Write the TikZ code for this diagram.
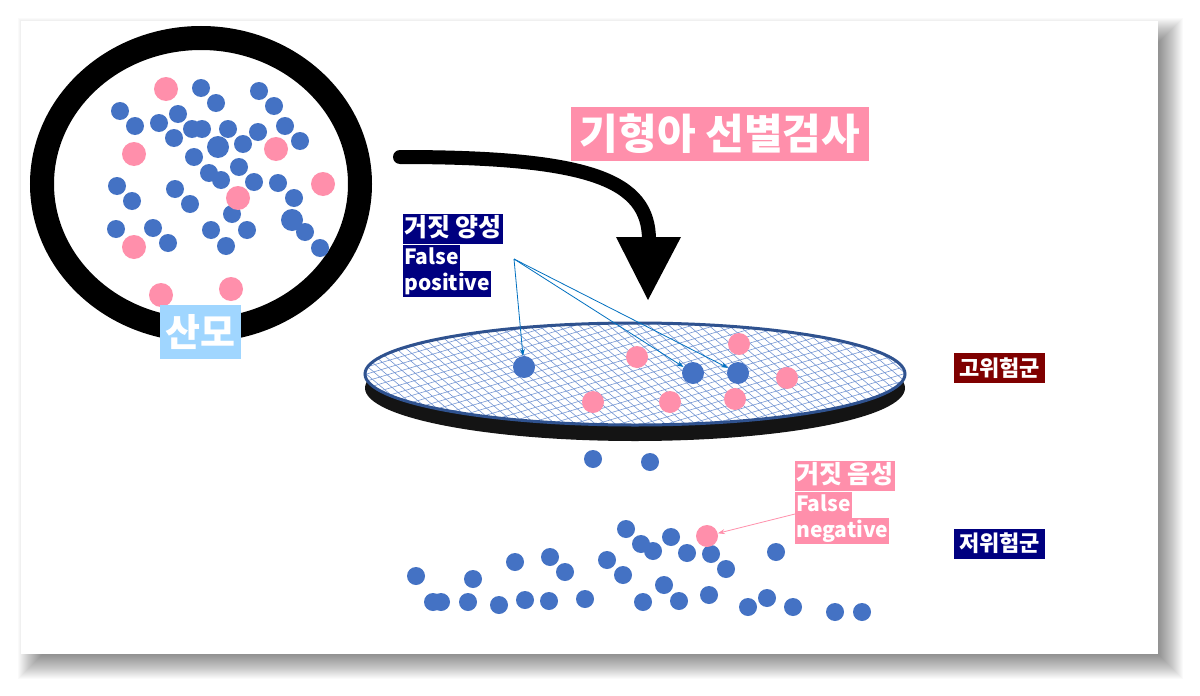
\documentclass[tikz,border=0pt]{standalone}
\usepackage{fontspec}
\newfontfamily\kr{Noto Sans CJK KR}
\usetikzlibrary{positioning,arrows.meta}
\definecolor{dotblue}{HTML}{4472C4}
\definecolor{dotpink}{HTML}{FF8FAB}
\definecolor{navy}{HTML}{000080}
\definecolor{maroon}{HTML}{7F0000}
\definecolor{skyblue}{HTML}{A0D6FF}
\definecolor{diskedge}{HTML}{2F528F}
\definecolor{arrowblue}{HTML}{0070C0}
\tikzset{
  bdot/.style={circle, fill=dotblue, inner sep=0pt, minimum size=22pt},
  pdot/.style={circle, fill=dotpink, inner sep=0pt, minimum size=22pt},
  hlk/.style={text=white, font=\kr\bfseries\fontsize{25}{28}\selectfont,
    inner xsep=1pt, inner ysep=2.5pt, text height=20pt, text depth=5pt},
  hle/.style={text=white, font=\kr\bfseries\fontsize{21}{24}\selectfont,
    inner xsep=1pt, inner ysep=2.5pt, text height=17pt, text depth=4pt},
  mesh/.style={dotblue!75, line width=0.6pt},
  fparrow/.style={arrowblue, line width=0.8pt, -{Stealth[length=7pt,width=5pt]}},
  fnarrow/.style={dotpink, line width=0.8pt, -{Stealth[length=7pt,width=5pt]}}
}
\begin{document}
\begin{tikzpicture}[x=1pt,y=-1pt]
\useasboundingbox (0,0) rectangle (1200,696);
\fill[white] (0,0) rectangle (1200,696);
% slide shadow
\foreach \e in {-14,...,18} {
  \fill[black, opacity=0.02] (36-\e,36-\e) rectangle (1165+\e,661+\e);
}
\fill[white] (21,21) rectangle (1158,654);

% mother
\draw[line width=24pt] (201,184) ellipse [x radius=159, y radius=146];
\foreach \x/\y in {201/88,216/103,259/91,274/106,120/111,135/126,159/123,178/114,
  192/129,202/129,228/129,258/132,285/126,300/141,174/138,243/144,194/157,
  239/167,209/173,221/180,254/182,278/183,117/186,132/201,175/189,190/204,
  294/198,232/214,305/232,320/248,116/229,153/228,168/243,211/230,247/230,226/246} {
  \fill[dotblue] (\x,\y) circle (9pt);
}
\fill[dotblue] (218,147) circle (11pt);
\fill[dotblue] (292,220) circle (11pt);
\foreach \x/\y in {166/89,134/154,276/149,323/184,238/198,134/247,161/295,231/289} {
  \fill[dotpink] (\x,\y) circle (12pt);
}
\node[text=white, fill=skyblue, font=\kr\bfseries\fontsize{38}{40}\selectfont,
  minimum width=81pt, minimum height=54pt, inner sep=0pt] (mom) at (200,332) {산모};

% screening arrow
\coordinate (arrS) at (400,157);
\coordinate (arrE) at (649,240);
\draw[line width=14pt, line cap=round] (arrS) .. controls (590,157) and (649,180) .. (arrE);
\fill (616,237) -- (681,237) -- (648,300) -- cycle;
\node[text=white, fill=dotpink, font=\kr\bfseries\fontsize{42}{46}\selectfont,
  minimum width=298pt, minimum height=54pt, inner sep=0pt] (title) at (720,134) {기형아 선별검사};

% filter disk
\fill[black!92] (635,388) ellipse [x radius=270, y radius=53];
\fill[white] (635,374) ellipse [x radius=270, y radius=51];
\begin{scope}
  \clip (635,374) ellipse [x radius=270, y radius=51];
  \foreach \y in {320,327,...,600} {
    \draw[mesh] (360,\y) -- (910,\y-165);
  }
  \foreach \x in {230,240,...,910} {
    \draw[mesh] (\x,318) -- ++(130,110);
  }
\end{scope}
\draw[diskedge, line width=3pt] (635,374) ellipse [x radius=270, y radius=51];
\foreach \x/\y in {637/357,739/344,787/378,593/402,670/402,735/399} {
  \fill[dotpink] (\x,\y) circle (11pt);
}
\node[bdot] (fpA) at (524,367) {};
\node[bdot] (fpB) at (693,373) {};
\node[bdot] (fpC) at (738,373) {};

% false positive
\node[hlk, fill=navy, anchor=north west] (fpk) at (403,214) {거짓 양성};
\node[hle, fill=navy, anchor=north west] (fpf) at (fpk.south west) {False};
\node[hle, fill=navy, anchor=north west] (fpp) at (fpf.south west) {positive};
\coordinate (fpsrc) at (514,259);
\draw[fparrow] (fpsrc) -- (fpA);
\draw[fparrow] (fpsrc) -- (fpB);
\draw[fparrow] (fpsrc) -- (fpC);

% groups
\node[text=white, fill=maroon, font=\kr\bfseries\fontsize{22}{24}\selectfont,
  minimum width=91pt, minimum height=30pt, inner sep=0pt] (high) at (999.5,368) {고위험군};
\node[text=white, fill=navy, font=\kr\bfseries\fontsize{22}{24}\selectfont,
  minimum width=91pt, minimum height=30pt, inner sep=0pt] (low) at (999.5,543.5) {저위험군};

% passed through
\foreach \x/\y in {593/459,650/462,626/529,641/544,653/551,671/537,687/553,711/554,
  726/569,776/552,416/576,473/579,515/562,550/557,565/572,607/560,623/575,664/585,
  433/602,441/602,468/602,499/605,525/600,549/601,585/599,643/602,679/601,709/595,
  748/607,767/598,793/607,835/612,862/612} {
  \fill[dotblue] (\x,\y) circle (9pt);
}
\node[pdot] (fndot) at (707,536) {};

% false negative
\node[hlk, fill=dotpink, anchor=north west] (fnk) at (795,461) {거짓 음성};
\node[hle, fill=dotpink, anchor=north west] (fnf) at (fnk.south west) {False};
\node[hle, fill=dotpink, anchor=north west] (fnn) at (fnf.south west) {negative};
\coordinate (fnsrc) at (795,514);
\draw[fnarrow] (fnsrc) -- (fndot);
\end{tikzpicture}
\end{document}
